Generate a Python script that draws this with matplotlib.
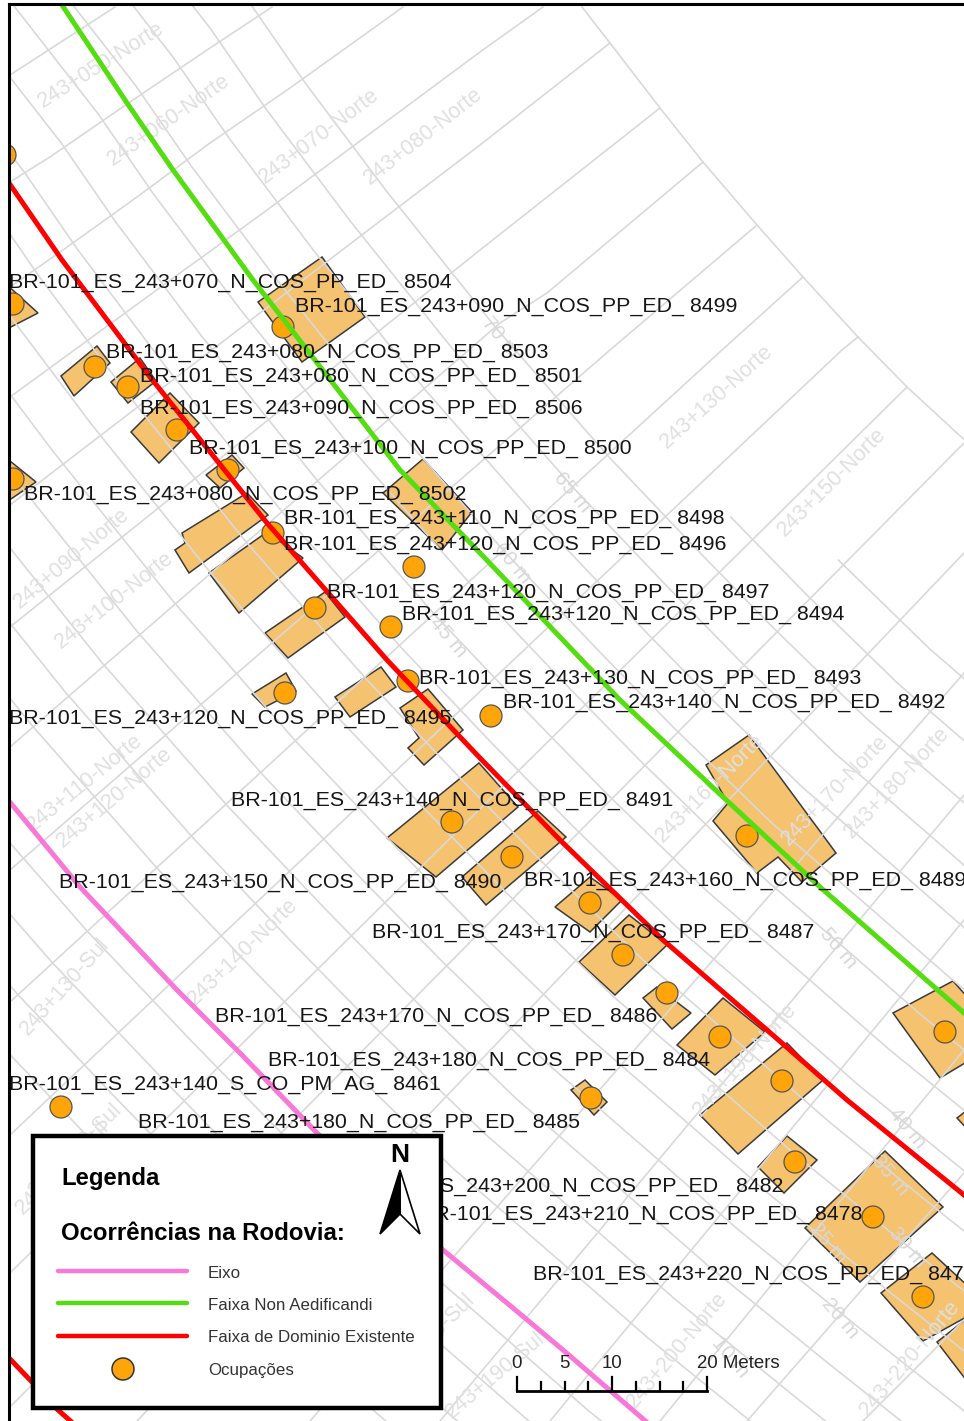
import numpy as np
from matplotlib import pyplot as plt
from matplotlib.patches import Polygon, Circle, Rectangle

plt.rcParams['font.family'] = ['Liberation Sans', 'DejaVu Sans']

red_x = [9, 62, 150, 267, 387, 480, 560, 663, 767, 847, 964]
red_y = [183, 260, 377, 523, 660, 758, 840, 940, 1030, 1100, 1195]
red2_x = [9, 32, 58, 75]
red2_y = [1358, 1382, 1410, 1425]
green_x = [62, 127, 173, 253, 400, 480, 620, 723, 820, 964]
green_y = [5, 103, 170, 280, 470, 553, 700, 797, 887, 1013]
pink_x = [9, 80, 177, 240, 317, 443, 513, 563, 613, 650]
pink_y = [801, 887, 990, 1053, 1133, 1250, 1308, 1350, 1393, 1425]

# grid lines along the road: distance to the axis in metres, first row drawn
lon_m = [-20, -15, -10, -5, 5, 10, 15, 20, 25, 30, 35, 40, 45, 50, 55, 60, 65, 70, 75, 80, 85]
lon_start = [0, 0, 0, 0, 0, 0, 0, 0, 0, 0, 0, 0, 0, 0, 0, 0, 0, 0, 470, 560, 640]
edge_x = [582, 610, 660, 703, 757, 803, 858, 907, 970]
edge_y = [7, 43, 108, 162, 225, 277, 337, 387, 445]

# grid lines across the road
cross = [
    ([10, 115], [75, 7]),
    ([10, 50, 130, 207, 272], [182, 157, 102, 50, 7]),
    ([10, 63, 137, 210, 290, 403], [287, 250, 197, 143, 88, 7]),
    ([10, 180, 263, 480, 543], [397, 273, 213, 52, 7]),
    ([10, 333, 480, 610], [505, 257, 145, 43]),
    ([10, 480, 660], [627, 250, 108]),
    ([10, 500, 547, 703], [747, 323, 293, 162]),
    ([10, 610, 757], [870, 350, 225]),
    ([10, 722, 803], [1002, 350, 277]),
    ([10, 842, 858], [1135, 350, 337]),
    ([10, 907], [1273, 387]),
    ([10, 964], [1407, 443]),
    ([137, 964], [1421, 553]),
    ([310, 964], [1421, 673]),
    ([440, 964], [1421, 795]),
    ([550, 964], [1421, 920]),
    ([660, 964], [1421, 1050]),
    ([747, 964], [1421, 1173]),
    ([863, 964], [1421, 1320]),
]

buildings = [
    [(5, 283), (38, 313), (5, 330)],
    [(258, 302), (322, 257), (365, 317), (302, 362)],
    [(61, 376), (97, 346), (110, 363), (74, 396)],
    [(111, 382), (140, 358), (156, 381), (128, 403)],
    [(131, 432), (170, 393), (199, 423), (159, 463)],
    [(206, 475), (232, 455), (244, 468), (220, 488)],
    [(5, 457), (36, 482), (5, 503)],
    [(175, 550), (185, 543), (182, 533), (247, 493), (268, 515), (189, 573)],
    [(209, 573), (267, 532), (303, 558), (239, 613)],
    [(265, 633), (325, 592), (345, 617), (288, 658)],
    [(383, 493), (423, 459), (472, 512), (442, 550)],
    [(252, 694), (286, 673), (296, 691), (265, 707)],
    [(335, 697), (381, 667), (396, 687), (350, 717)],
    [(400, 708), (428, 689), (463, 730), (424, 765), (408, 748), (419, 738)],
    [(387, 838), (479, 763), (518, 807), (436, 877)],
    [(462, 877), (538, 811), (566, 837), (486, 905)],
    [(555, 907), (590, 877), (622, 900), (590, 932)],
    [(579, 962), (629, 915), (667, 945), (615, 995)],
    [(643, 998), (657, 987), (691, 1013), (672, 1029)],
    [(677, 1045), (723, 998), (765, 1032), (715, 1075)],
    [(700, 1115), (787, 1043), (823, 1080), (738, 1154)],
    [(706, 765), (749, 735), (836, 853), (802, 882), (778, 857), (757, 873), (713, 821), (728, 803)],
    [(893, 1013), (953, 981), (970, 1000), (970, 1060), (940, 1078)],
    [(571, 1090), (585, 1080), (607, 1102), (594, 1115)],
    [(758, 1167), (787, 1136), (817, 1160), (784, 1193)],
    [(805, 1228), (885, 1151), (943, 1207), (860, 1282)],
    [(881, 1293), (932, 1253), (970, 1288), (970, 1315), (923, 1341)],
    [(937, 1342), (970, 1316), (970, 1385)],
    [(957, 1118), (970, 1108), (970, 1132)],
]

occ_x = [5, 13, 283, 95, 128, 177, 228, 13, 273, 414, 315, 391, 285, 408, 491, 452, 512, 590,
         623, 667, 720, 782, 591, 795, 873, 923, 945, 747, 61]
occ_y = [155, 304, 327, 367, 387, 430, 470, 479, 533, 567, 608, 627, 693, 681, 716, 822, 857, 903,
         955, 993, 1037, 1081, 1098, 1162, 1217, 1297, 1032, 836, 1107]

station_text = ['243+050-Norte', '243+060-Norte', '243+070-Norte', '243+080-Norte', '243+130-Norte',
                '243+150-Norte', '243+090-Norte', '243+100-Norte', '243+110-Norte', '243+120-Norte',
                '243+140-Norte', '243+130-Sul', '243+160-Norte', '243+170-Norte', '243+180-Norte',
                '243+190-Norte', '243+200-Norte', '243+220-Norte', '243+190-Sul', '243+180-Sul',
                '243+150-Sul', '243+170-Sul']
station_x = [101, 169, 319, 423, 717, 832, 72, 114, 85, 115, 243, 65, 710, 835, 897, 745, 677, 910, 495, 428, 75, 62]
station_y = [65, 120, 136, 136, 397, 482, 558, 600, 783, 797, 952, 987, 788, 790, 783, 1060, 1350, 1358, 1375, 1340, 1150, 1168]
station_rot = [32, 35, 37, 38, 42, 45, 40, 38, 39, 40, 44, 48, 45, 46, 47, 48, 50, 50, 40, 45, 45, 45]

offset_text = ['70 m', '65 m', '60 m', '45 m', '50 m', '40 m', '35 m', '25 m', '30 m', '20 m', '10 m']
offset_x = [500, 572, 512, 448, 838, 907, 890, 828, 907, 840, 730]
offset_y = [337, 492, 563, 637, 948, 1128, 1175, 1243, 1247, 1318, 1357]

label_text = ['BR-101_ES_243+070_N_COS_PP_ED_ 8504', 'BR-101_ES_243+090_N_COS_PP_ED_ 8499',
              'BR-101_ES_243+080_N_COS_PP_ED_ 8503', 'BR-101_ES_243+080_N_COS_PP_ED_ 8501',
              'BR-101_ES_243+090_N_COS_PP_ED_ 8506', 'BR-101_ES_243+100_N_COS_PP_ED_ 8500',
              'BR-101_ES_243+080_N_COS_PP_ED_ 8502', 'BR-101_ES_243+110_N_COS_PP_ED_ 8498',
              'BR-101_ES_243+120_N_COS_PP_ED_ 8496', 'BR-101_ES_243+120_N_COS_PP_ED_ 8497',
              'BR-101_ES_243+120_N_COS_PP_ED_ 8494', 'BR-101_ES_243+130_N_COS_PP_ED_ 8493',
              'BR-101_ES_243+140_N_COS_PP_ED_ 8492', 'BR-101_ES_243+120_N_COS_PP_ED_ 8495',
              'BR-101_ES_243+140_N_COS_PP_ED_ 8491', 'BR-101_ES_243+150_N_COS_PP_ED_ 8490',
              'BR-101_ES_243+160_N_COS_PP_ED_ 8489', 'BR-101_ES_243+170_N_COS_PP_ED_ 8487',
              'BR-101_ES_243+170_N_COS_PP_ED_ 8486', 'BR-101_ES_243+180_N_COS_PP_ED_ 8484',
              'BR-101_ES_243+140_S_CO_PM_AG_ 8461', 'BR-101_ES_243+180_N_COS_PP_ED_ 8485',
              'BR-101_ES_243+200_N_COS_PP_ED_ 8482', 'BR-101_ES_243+210_N_COS_PP_ED_ 8478',
              'BR-101_ES_243+220_N_COS_PP_ED_ 847']
label_x = [9, 295, 106, 140, 140, 189, 24, 284, 284, 327, 402, 419, 503, 9, 231, 59, 524, 372, 215,
           268, 9, 138, 341, 420, 533]
label_y = [283, 306, 352, 376, 408, 449, 495, 519, 545, 592, 615, 678, 702, 718, 800, 883, 881, 933,
           1017, 1061, 1084, 1122, 1187, 1215, 1275]

legend_text = ['Eixo', 'Faixa Non Aedificandi', 'Faixa de Dominio Existente', 'Ocupações']
legend_y = [1271, 1303, 1336, 1369]
legend_color = ['#f878d8', '#55dd11', '#ff0000']
scale_ticks = [0, 2.5, 5, 7.5, 10, 12.5, 15, 17.5, 20]
scale_labels = ['0', '5', '10', '20 Meters']
scale_label_m = [0, 5, 10, 18.9]

GRID = '#d9d9d9'
ORANGE = '#ffa50a'


def shifted(x, y, dist):
    # the red line moved sideways by dist pixels, with a long run-in at both ends
    x = np.array([-500] + x + [1500], float)
    y = np.array([-470] + y + [1620], float)
    dx, dy = np.gradient(x), np.gradient(y)
    n = np.hypot(dx, dy)
    return x + dist * dy / n, y - dist * dx / n


def main():
    fig = plt.figure(figsize=(9.64, 14.21), dpi=100)
    ax = fig.add_axes([9 / 964, 0, 955 / 964, 1417 / 1421])
    ax.set_xlim(9, 964)
    ax.set_ylim(1421, 4)
    ax.set_xticks([])
    ax.set_yticks([])
    for side in ['right', 'bottom']:
        ax.spines[side].set_visible(False)
    for side in ['left', 'top']:
        ax.spines[side].set_linewidth(2.2)
        ax.spines[side].set_zorder(20)

    for b in buildings:
        ax.add_patch(Polygon(b, closed=True, fc='#f5c26f', ec='#3a3a3a', lw=1.1, zorder=2))

    for m, start in zip(lon_m, lon_start):
        lx, ly = shifted(red_x, red_y, (m - 38) * 9.4)
        if start > 0:
            keep = ly >= start
            lx, ly = lx[keep], ly[keep]
        ax.plot(lx, ly, color=GRID, lw=1.2, zorder=3)
    ax.plot(edge_x, edge_y, color=GRID, lw=1.2, zorder=3)
    for cx, cy in cross:
        ax.plot(cx, cy, color=GRID, lw=1.2, zorder=3)

    for t, x, y, r in zip(station_text, station_x, station_y, station_rot):
        ax.text(x, y, t, color='#e0e0e0', fontsize=15.5, rotation=r, ha='center', va='center',
                rotation_mode='anchor', zorder=3, clip_on=True)
    for t, x, y in zip(offset_text, offset_x, offset_y):
        ax.text(x, y, t, color='#d8d8d8', fontsize=15, rotation=-50, ha='center', va='center',
                rotation_mode='anchor', zorder=3, clip_on=True)

    for x, y in zip(occ_x, occ_y):
        ax.add_patch(Circle((x, y), 11, fc=ORANGE, ec='#555555', lw=0.9, zorder=4))

    ax.plot(pink_x, pink_y, color=legend_color[0], lw=3.6, zorder=5)
    ax.plot(green_x, green_y, color=legend_color[1], lw=3.6, zorder=5)
    ax.plot(red_x, red_y, color=legend_color[2], lw=3.6, zorder=5)
    ax.plot(red2_x, red2_y, color=legend_color[2], lw=3.6, zorder=5)

    for t, x, y in zip(label_text, label_x, label_y):
        ax.text(x, y, t, color='#161616', fontsize=15.4, ha='left', va='center', zorder=6, clip_on=True)

    # legend box
    ax.add_patch(Rectangle((33, 1136), 408, 272, fc='white', ec='black', lw=3.2, zorder=10))
    ax.text(61, 1178, 'Legenda', fontsize=17.2, fontweight='bold', va='center', zorder=11)
    ax.text(61, 1233, 'Ocorrências na Rodovia:', fontsize=17.3, fontweight='bold', va='center', zorder=11)
    for y, c in zip(legend_y, legend_color):
        ax.plot([58, 187], [y, y], color=c, lw=3.2, solid_capstyle='round', zorder=11)
    ax.add_patch(Circle((123, legend_y[3]), 11, fc=ORANGE, ec='#333333', lw=1.1, zorder=11))
    for t, y in zip(legend_text, legend_y):
        ax.text(208, y + 2, t, fontsize=12.15, color='#333333', va='center', zorder=11)

    # north arrow
    ax.text(400, 1155, 'N', fontsize=19, fontweight='bold', ha='center', va='center', zorder=11)
    ax.add_patch(Polygon([(400, 1170), (420, 1234), (400, 1214)], fc='white', ec='black', lw=1.2, zorder=11))
    ax.add_patch(Polygon([(400, 1170), (380, 1234), (400, 1214)], fc='black', ec='black', lw=1.2, zorder=11))

    # scale bar, 20 m = 190 px
    px = lambda m: 517 + m * 9.5
    ax.plot([px(0), px(20)], [1391, 1391], color='black', lw=2, zorder=7)
    for m in scale_ticks:
        top = 1377 if m in (0, 10, 20) else 1382
        ax.plot([px(m), px(m)], [1391, top], color='black', lw=1.6, zorder=7)
    for t, m in zip(scale_labels, scale_label_m):
        ha = 'left' if t.endswith('Meters') else 'center'
        ax.text(px(m), 1363, t, fontsize=13.4, color='#222222', ha=ha, va='center', zorder=7)

    fig.savefig('out.png', dpi=100)


if __name__ == '__main__':
    main()
